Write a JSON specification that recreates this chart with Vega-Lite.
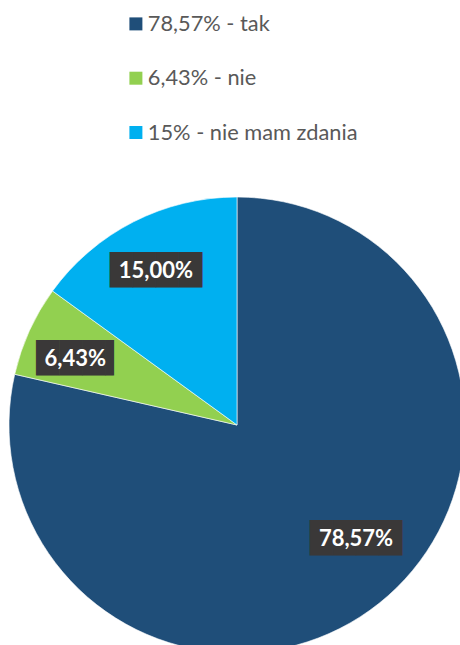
{
  "$schema": "https://vega.github.io/schema/vega-lite/v6.json",
  "width": 474,
  "height": 850,
  "padding": 0,
  "autosize": {"type": "none"},
  "background": "white",
  "config": {"view": {"stroke": null}},
  "data": {"values": [
    {"k": 1, "label": "78,57% - tak", "value": 78.57, "pct": "78,57%"},
    {"k": 2, "label": "6,43% - nie", "value": 6.43, "pct": "6,43%"},
    {"k": 3, "label": "15% - nie mam zdania", "value": 15, "pct": "15,00%"}
  ]},
  "encoding": {
    "theta": {"field": "value", "type": "quantitative", "stack": true},
    "order": {"field": "k", "type": "quantitative"}
  },
  "layer": [
    {
      "mark": {"type": "arc", "outerRadius": 228, "stroke": "white", "strokeWidth": 0.6},
      "encoding": {
        "color": {
          "field": "label", "type": "nominal",
          "scale": {"domain": ["78,57% - tak", "6,43% - nie", "15% - nie mam zdania"], "range": ["#1F4E79", "#92D050", "#00B0F0"]},
          "legend": {
            "title": null, "orient": "none", "legendX": 125, "legendY": 13,
            "symbolType": "square", "symbolSize": 169, "symbolStrokeWidth": 0,
            "labelFont": "Lato", "labelFontSize": 21.8, "labelColor": "#595959", "labelLimit": 400,
            "labelOffset": 1, "rowPadding": 31.3, "padding": 0
          }
        }
      }
    },
    {
      "mark": {"type": "text", "radius": 170, "dx": 13, "dy": -19, "font": "DejaVu Sans", "fontSize": 30, "color": "#3A3838", "baseline": "middle", "align": "center", "text": "████"},
      "encoding": {"opacity": {"condition": {"test": "datum.k == 1", "value": 1}, "value": 0}}
    },
    {
      "mark": {"type": "text", "radius": 170, "dx": 13, "dy": -19, "font": "Lato", "fontWeight": "bold", "fontSize": 22, "color": "white", "baseline": "middle", "align": "center"},
      "encoding": {"text": {"field": "pct"}, "opacity": {"condition": {"test": "datum.k == 1", "value": 1}, "value": 0}}
    },
    {
      "mark": {"type": "text", "radius": 170, "dx": 0, "dy": 4, "font": "DejaVu Sans", "fontSize": 30, "color": "#3A3838", "baseline": "middle", "align": "center", "text": "███▍"},
      "encoding": {"opacity": {"condition": {"test": "datum.k == 2", "value": 1}, "value": 0}}
    },
    {
      "mark": {"type": "text", "radius": 170, "dx": -7, "dy": 4, "font": "Lato", "fontWeight": "bold", "fontSize": 22, "color": "white", "baseline": "middle", "align": "center"},
      "encoding": {"text": {"field": "pct"}, "opacity": {"condition": {"test": "datum.k == 2", "value": 1}, "value": 0}}
    },
    {
      "mark": {"type": "text", "radius": 170, "dx": -4, "dy": -3, "font": "DejaVu Sans", "fontSize": 30, "color": "#3A3838", "baseline": "middle", "align": "center", "text": "████"},
      "encoding": {"opacity": {"condition": {"test": "datum.k == 3", "value": 1}, "value": 0}}
    },
    {
      "mark": {"type": "text", "radius": 170, "dx": -4, "dy": -3, "font": "Lato", "fontWeight": "bold", "fontSize": 22, "color": "white", "baseline": "middle", "align": "center"},
      "encoding": {"text": {"field": "pct"}, "opacity": {"condition": {"test": "datum.k == 3", "value": 1}, "value": 0}}
    }
  ]
}
